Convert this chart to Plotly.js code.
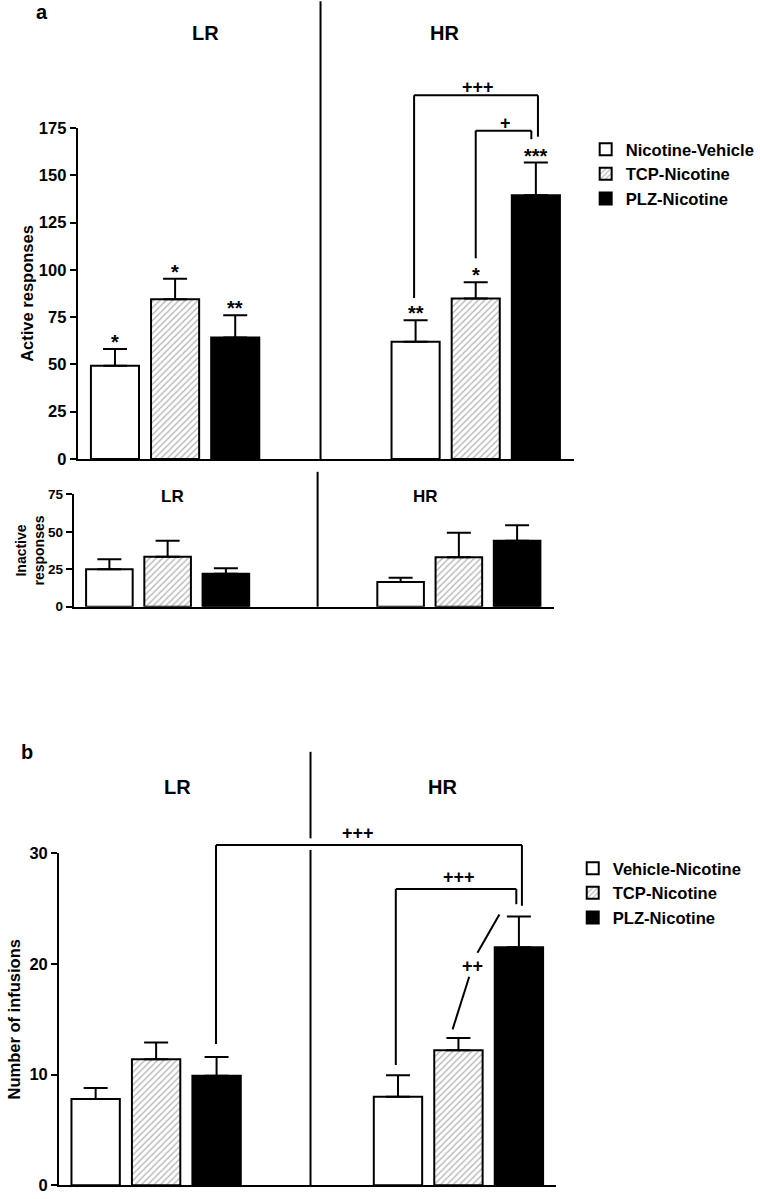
<!DOCTYPE html>
<html><head><meta charset="utf-8">
<script src="https://cdn.plot.ly/plotly-3.0.1.min.js"></script>
<style>html,body{margin:0;padding:0;background:#fff}</style>
</head><body><div id="chart" style="width:760px;height:1199px"></div>
<script>
// ---------------- data ----------------
const groups = ['LR', 'HR'];

// Panel a – active responses
const seriesA = ['Nicotine-Vehicle', 'TCP-Nicotine', 'PLZ-Nicotine'];
const activeNV = [49.3, 62.0];
const activeNVErr = [8.9, 11.3];
const activeTCP = [84.4, 84.8];
const activeTCPErr = [10.9, 8.6];
const activePLZ = [64.3, 139.4];
const activePLZErr = [11.7, 17.3];
const activeStarsNV = ['*', '**'];
const activeStarsTCP = ['*', '*'];
const activeStarsPLZ = ['**', '***'];
const activeTicks = [0, 25, 50, 75, 100, 125, 150, 175];

// Panel a – inactive responses
const inactiveNV = [25.0, 16.5];
const inactiveNVErr = [6.6, 2.9];
const inactiveTCP = [33.4, 33.0];
const inactiveTCPErr = [10.6, 16.4];
const inactivePLZ = [22.0, 44.0];
const inactivePLZErr = [3.6, 10.3];
const inactiveTicks = [0, 25, 50, 75];

// Panel b – number of infusions
const seriesB = ['Vehicle-Nicotine', 'TCP-Nicotine', 'PLZ-Nicotine'];
const infVN = [7.8, 8.0];
const infVNErr = [1.0, 1.95];
const infTCP = [11.4, 12.2];
const infTCPErr = [1.5, 1.1];
const infPLZ = [9.9, 21.5];
const infPLZErr = [1.7, 2.8];
const infTicks = [0, 10, 20, 30];

// ---------------- helpers ----------------
const FONT = 'Liberation Sans, Arial, Helvetica, sans-serif';
const styles = [
  {color: '#ffffff'},
  {color: '#ffffff', pattern: {shape: '/', fgcolor: '#6e6e6e', bgcolor: '#ffffff', size: 4.5, solidity: 0.32, fillmode: 'overlay'}},
  {color: '#000000'}
];
function bar(name, y, err, i, xa, ya, legend, show, capw) {
  const m = {color: styles[i].color, line: {color: '#000', width: 2}};
  if (styles[i].pattern) m.pattern = styles[i].pattern;
  return {
    type: 'bar', name: name, x: groups, y: y, xaxis: xa, yaxis: ya,
    legend: legend, showlegend: show, marker: m,
    error_y: {type: 'data', symmetric: false, array: err, arrayminus: err.map(() => 0),
              color: '#000', thickness: 2, width: capw},
    hoverinfo: 'skip'
  };
}
const XR_A = [-0.324, 1.326];
const XR_I = [-0.3225, 1.325];
const XR_B = [-0.321, 1.323];
const OFF = [-0.2, 0, 0.2];
function fx(xr, p) { return (p - xr[0]) / (xr[1] - xr[0]); }

const shapes = [];
const annotations = [];
function line(ax, xr, ymax, x0, y0, x1, y1) {
  shapes.push({type: 'line', xref: ax.x + ' domain', yref: ax.y + ' domain',
    x0: fx(xr, x0), x1: fx(xr, x1), y0: y0 / ymax, y1: y1 / ymax,
    line: {color: '#000', width: 2}});
}
function bracket(ax, xr, ymax, xL, xR, yTop, yLb, yRb) {
  line(ax, xr, ymax, xL, yLb, xL, yTop);
  line(ax, xr, ymax, xL, yTop, xR, yTop);
  line(ax, xr, ymax, xR, yTop, xR, yRb);
}
function label(ax, xr, ymax, x, y, text, size) {
  annotations.push({xref: ax.x + ' domain', yref: ax.y + ' domain', x: fx(xr, x), y: y / ymax,
    text: text, showarrow: false, xanchor: 'center', yanchor: 'middle',
    font: {family: FONT, size: size, color: '#000', weight: 'bold'}});
}
function stars(ax, xr, ymax, vals, errs, marks, ti) {
  for (let g = 0; g < groups.length; g++) {
    if (!marks[g]) continue;
    annotations.push({xref: ax.x + ' domain', yref: ax.y + ' domain',
      x: fx(xr, g + OFF[ti]), y: (vals[g] + errs[g]) / ymax,
      text: marks[g], showarrow: false, xanchor: 'center', yanchor: 'bottom', yshift: -6,
      font: {family: FONT, size: 20, color: '#000', weight: 'bold'}});
  }
}
function paperText(px, py, text, size) {
  annotations.push({xref: 'paper', yref: 'paper', x: px / 760, y: 1 - py / 1199, text: text,
    showarrow: false, xanchor: 'center', yanchor: 'middle',
    font: {family: FONT, size: size, color: '#000', weight: 'bold'}});
}

// ---------------- traces ----------------
const A = {x: 'x', y: 'y'}, I = {x: 'x2', y: 'y2'}, B = {x: 'x3', y: 'y3'};
const traces = [
  bar(seriesA[0], activeNV, activeNVErr, 0, 'x', 'y', 'legend', true, 12),
  bar(seriesA[1], activeTCP, activeTCPErr, 1, 'x', 'y', 'legend', true, 12),
  bar(seriesA[2], activePLZ, activePLZErr, 2, 'x', 'y', 'legend', true, 12),
  bar(seriesA[0], inactiveNV, inactiveNVErr, 0, 'x2', 'y2', 'legend', false, 12),
  bar(seriesA[1], inactiveTCP, inactiveTCPErr, 1, 'x2', 'y2', 'legend', false, 12),
  bar(seriesA[2], inactivePLZ, inactivePLZErr, 2, 'x2', 'y2', 'legend', false, 12),
  bar(seriesB[0], infVN, infVNErr, 0, 'x3', 'y3', 'legend2', true, 12),
  bar(seriesB[1], infTCP, infTCPErr, 1, 'x3', 'y3', 'legend2', true, 12),
  bar(seriesB[2], infPLZ, infPLZErr, 2, 'x3', 'y3', 'legend2', true, 12)
];

// ---------------- overlays ----------------
const YA = 175, YI = 75, YB = 30;
// panel a dividers
line(A, XR_A, YA, 0.4838, 0, 0.4838, 242);
line(I, XR_I, YI, 0.515, 0, 0.515, 90);
// panel a stars
stars(A, XR_A, YA, activeNV, activeNVErr, activeStarsNV, 0);
stars(A, XR_A, YA, activeTCP, activeTCPErr, activeStarsTCP, 1);
stars(A, XR_A, YA, activePLZ, activePLZErr, activeStarsPLZ, 2);
// panel a brackets
bracket(A, XR_A, YA, 0.795, 1.207, 192.3, 85.1, 170.4);
label(A, XR_A, YA, 1.008, 196.6, '+++', 18);
bracket(A, XR_A, YA, 1.0, 1.185, 173.6, 106.1, 169.1);
label(A, XR_A, YA, 1.099, 177.8, '+', 18);
// panel b divider (broken around bracket)
line(B, XR_B, YB, 0.5107, 0, 0.5107, 30.29);
line(B, XR_B, YB, 0.5107, 31.35, 0.5107, 39.17);
// panel b brackets
bracket(B, XR_B, YB, 0.198, 1.210, 30.74, 12.76, 25.26);
label(B, XR_B, YB, 0.6675, 31.8, '+++', 18);
bracket(B, XR_B, YB, 0.7928, 1.1914, 26.77, 10.87, 25.4);
label(B, XR_B, YB, 1.0026, 27.82, '+++', 18);
line(B, XR_B, YB, 0.9806, 14.09, 1.0356, 18.84);
line(B, XR_B, YB, 1.0629, 21.01, 1.1354, 24.48);
label(B, XR_B, YB, 1.0465, 19.84, '++', 18);

// group titles and panel letters
paperText(206, 33, groups[0], 20);
paperText(446.7, 33, groups[1], 20);
paperText(173.3, 496.7, groups[0], 17);
paperText(426.7, 496.7, groups[1], 17);
paperText(178.3, 786.7, groups[0], 20);
paperText(444, 786.7, groups[1], 20);
paperText(41.7, 12, 'a', 20);
paperText(26.7, 752.3, 'b', 20);

// ---------------- layout ----------------
function xax(dom, xr) {
  return {domain: dom, range: xr, type: 'category', showticklabels: false, ticks: '',
    showline: true, linecolor: '#000', linewidth: 2, showgrid: false, zeroline: false, fixedrange: true};
}
function yax(dom, ymax, tv, title, tsize, fsize, standoff) {
  return {domain: dom, range: [0, ymax], tickvals: tv, ticks: 'outside', ticklen: 6, tickwidth: 2,
    tickcolor: '#000', showline: true, linecolor: '#000', linewidth: 2, showgrid: false, zeroline: false,
    fixedrange: true, ticklabelstandoff: 0,
    tickfont: {family: FONT, size: tsize, color: '#000', weight: 'bold'},
    title: {text: title, standoff: standoff, font: {family: FONT, size: fsize, color: '#000', weight: 'bold'}}};
}
const legendFont = {family: FONT, size: 16.6, color: '#000', weight: 'bold'};
const layout = {
  width: 760, height: 1199, margin: {l: 0, r: 0, t: 0, b: 0},
  paper_bgcolor: '#fff', plot_bgcolor: 'rgba(0,0,0,0)',
  barmode: 'group', bargap: 0.4, bargroupgap: 0.2,
  xaxis: Object.assign(xax([78 / 760, 576 / 760], XR_A), {anchor: 'y'}),
  yaxis: Object.assign(yax([1 - 459 / 1199, 1 - 128 / 1199], YA, activeTicks, 'Active responses', 16.5, 16.5, 1), {anchor: 'x'}),
  xaxis2: Object.assign(xax([74 / 760, 555.7 / 760], XR_I), {anchor: 'y2'}),
  yaxis2: Object.assign(yax([1 - 606.7 / 1199, 1 - 494.3 / 1199], YI, inactiveTicks, 'Inactive<br>responses', 13.5, 14, 0), {anchor: 'x2'}),
  xaxis3: Object.assign(xax([59.3 / 760, 558.3 / 760], XR_B), {anchor: 'y3'}),
  yaxis3: Object.assign(yax([1 - 1185.3 / 1199, 1 - 853.3 / 1199], YB, infTicks, 'Number of infusions', 16.5, 16.5, 5), {anchor: 'x3'}),
  legend: {x: 588 / 760, y: 1 - 132 / 1199, xanchor: 'left', yanchor: 'top', font: legendFont,
    bgcolor: 'rgba(0,0,0,0)', borderwidth: 0, itemclick: false, itemdoubleclick: false},
  legend2: {x: 575 / 760, y: 1 - 851 / 1199, xanchor: 'left', yanchor: 'top', font: legendFont,
    bgcolor: 'rgba(0,0,0,0)', borderwidth: 0, itemclick: false, itemdoubleclick: false},
  shapes: shapes,
  annotations: annotations,
  font: {family: FONT, color: '#000'}
};
Plotly.newPlot('chart', traces, layout, {staticPlot: true, displayModeBar: false});
</script>
</body></html>
